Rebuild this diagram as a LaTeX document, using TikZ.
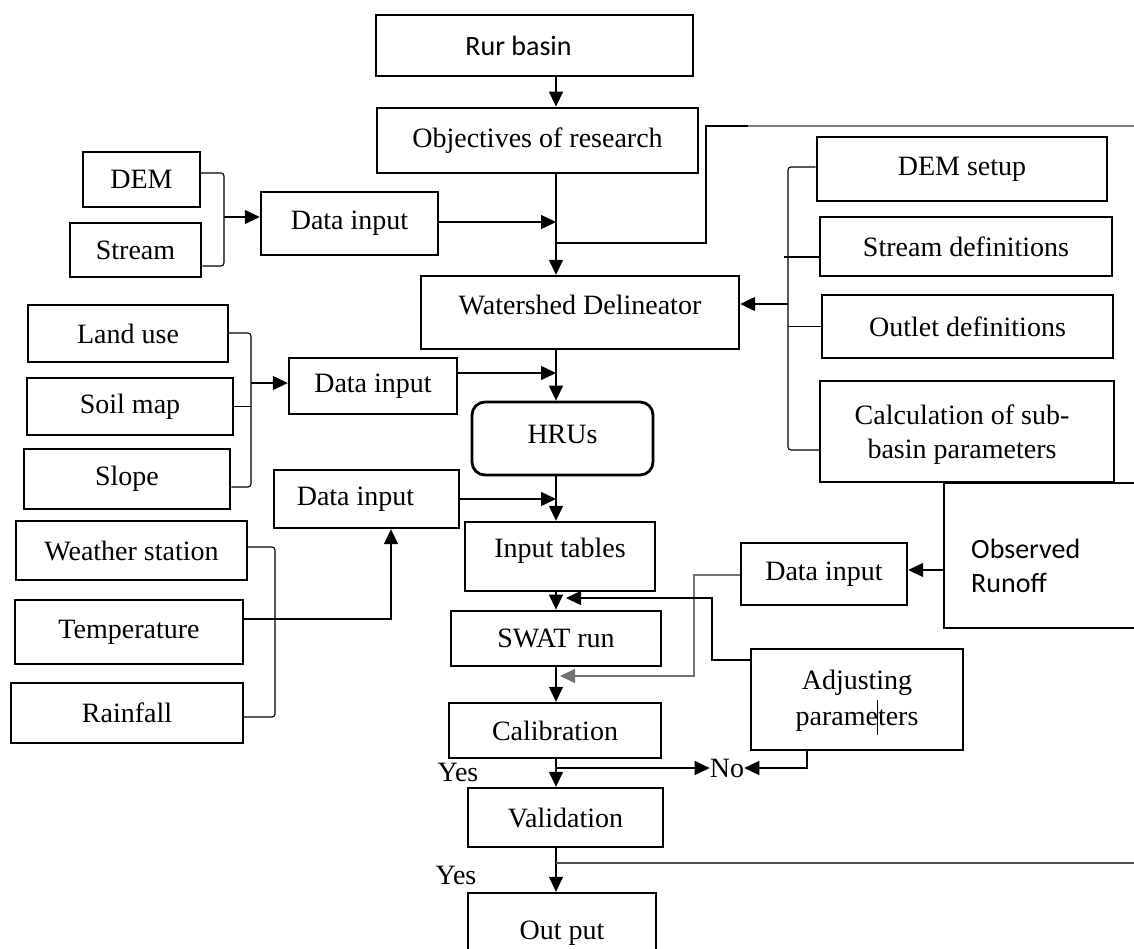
\documentclass[tikz,border=0pt]{standalone}
\usepackage{fontspec}
\setmainfont{Liberation Serif}
\newfontfamily\calibfont{Carlito}
\usetikzlibrary{arrows.meta,calc}
\begin{document}
\begin{tikzpicture}[x=1pt,y=-1pt,
  box/.style={draw, line width=2.4pt, inner sep=0pt, font=\fontsize{28}{34}\selectfont, align=center},
  conn/.style={line width=1.4pt},
  arr/.style={conn, -{Triangle[length=15pt,width=14pt]}},
  lbl/.style={inner sep=0pt, font=\fontsize{28}{34}\selectfont}
]
\useasboundingbox (0,0) rectangle (1134,948);
\clip (0,0) rectangle (1134,948);
\coordinate (mx) at (556,0);
\coordinate (rb) at (788,0);

% central column
\node[box, minimum width=317pt, minimum height=61pt] (rur) at (534.5,45.5) {\calibfont Rur basin\hspace{32pt}};
\node[box, line width=2.8pt, minimum width=321pt, minimum height=65pt] (obj) at (537.5,140.5) {Objectives of research};
\node[box, minimum width=318pt, minimum height=73pt, text depth=16pt] (ws) at (580,312.5) {Watershed Delineator};
\node[box, line width=2.8pt, rounded corners=13pt, minimum width=181pt, minimum height=73pt, text depth=8pt] (hrus) at (562.5,438.5) {HRUs};
\node[box, minimum width=190pt, minimum height=69pt, text depth=18pt] (it) at (560,556.5) {Input tables};
\node[box, line width=2.8pt, minimum width=210pt, minimum height=55pt] (swat) at (556,638.5) {SWAT run};
\node[box, minimum width=212pt, minimum height=55pt] (calib) at (555,730.5) {Calibration};
\node[box, minimum width=195pt, minimum height=59pt] (valid) at (565.5,817.5) {Validation};
\node[box, minimum width=188pt, minimum height=80pt] (output) at (562,933) {Out put};

% left inputs
\node[box, minimum width=117pt, minimum height=55pt] (dem) at (141.5,179.5) {DEM};
\node[box, line width=2.8pt, minimum width=131pt, minimum height=54pt] (stream) at (135.5,250) {Stream};
\node[box, minimum width=177pt, minimum height=63pt] (di1) at (349.5,223.5) {Data input};
\node[box, minimum width=200pt, minimum height=57pt] (landuse) at (128,333.5) {Land use};
\node[box, minimum width=206pt, minimum height=57pt] (soil) at (130,406.5) {Soil map};
\node[box, line width=2.8pt, minimum width=206pt, minimum height=60pt] (slope) at (127,479) {Slope};
\node[box, minimum width=168pt, minimum height=56pt] (di2) at (373,386) {Data input};
\node[box, minimum width=185pt, minimum height=58pt] (di3) at (366.5,499) {Data input\hspace{22pt}};
\node[box, minimum width=231pt, minimum height=59pt] (weather) at (131.5,550.5) {Weather station};
\node[box, minimum width=228pt, minimum height=64pt] (temp) at (129,632) {Temperature};
\node[box, minimum width=232pt, minimum height=60pt] (rain) at (127,713) {Rainfall};

% right side
\node[box, line width=2.8pt, minimum width=290pt, minimum height=64pt] (demsetup) at (962,169) {DEM setup};
\node[box, minimum width=292pt, minimum height=59pt] (streamdef) at (966,246.5) {Stream definitions};
\node[box, minimum width=291pt, minimum height=63pt] (outlet) at (967.5,326.5) {Outlet definitions};
\node[box, minimum width=294pt, minimum height=101pt] (calc) at (967,431.5) {};
\node[lbl, align=center] (calcT) at (962,435) {Calculation of sub-\\basin parameters};
\node[box, minimum width=166pt, minimum height=62pt] (di4) at (824,574) {Data input};
\node[box, minimum width=206pt, minimum height=145pt] (obs) at (1047,555.5) {};
\node[lbl, align=left, anchor=west, font=\calibfont\fontsize{28}{34}\selectfont] (obsT) at (971,566) {Observed\\Runoff};
\node[box, minimum width=212pt, minimum height=101pt] (adj) at (857,699.5) {};
\node[lbl, align=center] (adjT) at (857,701) {Adjusting\\[2pt]parameters};

% labels
\node[lbl] (yes1) at (458,772) {Yes};
\node[lbl] (yes2) at (456,875) {Yes};
\node[lbl] (no) at (727,768) {No};

% main column connectors
\draw[arr] (rur.south -| mx) -- (obj.north -| mx);
\draw[arr] (obj.south -| mx) -- (ws.north -| mx);
\draw[arr] (ws.south -| mx) -- (hrus.north -| mx);
\draw[arr] (hrus.south -| mx) -- (it.north -| mx);
\draw[arr] (it.south -| mx) -- (swat.north -| mx);
\draw[arr] (swat.south -| mx) -- (calib.north -| mx);
\draw[arr] (calib.south -| mx) -- (valid.north -| mx);
\draw[arr] (valid.south -| mx) -- (output.north -| mx);

% data inputs into main column
\draw[arr] (di1.east |- 0,222) -- (mx |- 0,222);
\draw[arr] (di2.east |- 0,373) -- (mx |- 0,373);
\draw[arr] (di3.east) -- (di3.east -| mx);

% top branch to the right
\coordinate (topR) at (1140,126);
\draw[conn] (mx |- 0,243) -| (706,126) -- (748,126);
\draw[conn, black!50] (748,126) -- (topR);

% DEM / Stream bracket
\draw[conn, line width=1.1pt, rounded corners=3pt] ($(dem.east)+(0,-6.5)$) -- (224,173) -- (224,266) -- ($(stream.east)+(0,16)$);
\draw[arr] (224,217) -- (di1.west |- 0,217);

% Land use / Soil / Slope bracket
\draw[conn, line width=1.1pt, rounded corners=3pt] ($(landuse.east)+(0,-0.5)$) -- (251,333) -- (251,487) -- ($(slope.east)+(0,8)$);
\draw[conn, line width=1.1pt] (soil.east) -- (251,406.5);
\draw[arr] (251,383) -- (di2.west |- 0,383);

% Weather bracket and temperature
\draw[conn, line width=1.1pt, rounded corners=3pt] ($(weather.east)+(0,-3.5)$) -- (275,547) -- (275,717) -- ($(rain.east)+(0,4)$);
\draw[arr] ($(temp.east)+(0,-13)$) -| ($(di3.south)+(24.5,0)$);

% right bracket
\coordinate (cw) at ($(calc.west)+(0,18.5)$);
\draw[conn, line width=1.1pt, rounded corners=3pt] ($(demsetup.west)+(0,-2)$) -| (cw -| rb) -- (cw);
\draw[conn, line width=1.1pt] ($(streamdef.west)+(0,10.5)$) -- ++(-35,0);
\draw[conn, line width=1.1pt] (outlet.west) -- (outlet.west -| rb);
\draw[arr] (rb |- 0,304) -- (ws.east |- 0,304);

% calibration loop
\draw[arr] ($(obs.west)+(0,14.5)$) -- (di4.east |- 0,570);
\draw[arr, black!55] ($(di4.west)+(0,1)$) -| (694,676) -- (560,676);
\draw[arr] ($(adj.west)+(0,-39.5)$) -| (712,598) -- (566,598);
\draw[arr] (mx |- no.west) -- (no.west);
\draw[arr] ($(adj.south)+(-50,0)$) |- (no.east);
\draw[line width=1pt] (877,700) -- (877,735);

% bottom branch
\coordinate (botR) at (1140,863);
\draw[conn, black!70] (mx |- 0,863) -- (botR);
\end{tikzpicture}
\end{document}
